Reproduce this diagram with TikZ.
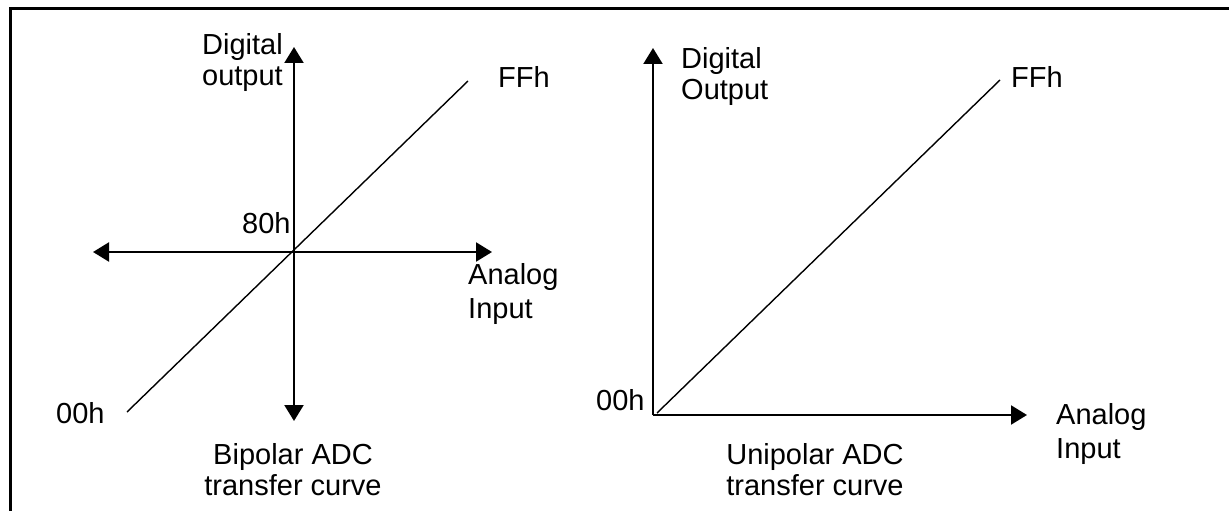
\documentclass[tikz,border=0pt]{standalone}
\usepackage{fontspec}
\setmainfont{Liberation Sans}
\usetikzlibrary{arrows.meta}
\begin{document}
\begin{tikzpicture}[x=1pt,y=-1pt,
  axis/.style={line width=2.2pt,-{Triangle[length=16pt,width=19pt]}},
  curve/.style={line width=1.4pt},
  frame/.style={line width=3pt},
  lbl/.style={inner sep=0pt,font=\fontsize{29}{31}\selectfont},
  lblwide/.style={inner sep=0pt,font=\fontsize{29}{34}\selectfont}]
\useasboundingbox (0,0) rectangle (1229,511);
% frame
\coordinate (fTL) at (10,9);
\coordinate (fTR) at (1229,9);
\coordinate (fBL) at (10,511);
\draw[frame] (fTR) -- (fTL) -- (fBL);
% bipolar
\coordinate (bO) at (294,252);
\coordinate (bUp) at (294,47);
\coordinate (bDown) at (294,421);
\coordinate (bLeft) at (93,252);
\coordinate (bRight) at (492,252);
\coordinate (bLo) at (127,412);
\coordinate (bHi) at (468,81);
\draw[axis] (bO) -- (bUp);
\draw[axis] (bO) -- (bDown);
\draw[axis] (bO) -- (bLeft);
\draw[axis] (bO) -- (bRight);
\draw[curve] (bLo) -- (bHi);
\node[lbl,align=right,anchor=north east] (bDig) at (283,33) {Digital\\output};
\node[lbl,anchor=base west] (bFF) at (498,88) {FFh};
\node[lbl,anchor=base west] (b80) at (242,233) {80h};
\node[lblwide,align=left,anchor=north west] (bAn) at (468,263) {Analog\\Input};
\node[lbl,anchor=base west] (b00) at (56,423) {00h};
\node[lbl,align=center,anchor=north] (bCap) at (293,443) {Bipolar ADC\\transfer curve};
% unipolar
\coordinate (uO) at (653,415);
\coordinate (uUp) at (653,48);
\coordinate (uRight) at (1027,415);
\coordinate (uLo) at (657,413);
\coordinate (uHi) at (1000,80);
\draw[axis] (uO) -- (uUp);
\draw[axis] (uO) -- (uRight);
\draw[curve] (uLo) -- (uHi);
\node[lbl,align=left,anchor=north west] (uDig) at (681,47) {Digital\\Output};
\node[lbl,anchor=base west] (uFF) at (1011,88) {FFh};
\node[lbl,anchor=base west] (u00) at (596,410) {00h};
\node[lblwide,align=left,anchor=north west] (uAn) at (1056,403) {Analog\\Input};
\node[lbl,align=center,anchor=north] (uCap) at (815,443) {Unipolar ADC\\transfer curve};
\end{tikzpicture}
\end{document}
